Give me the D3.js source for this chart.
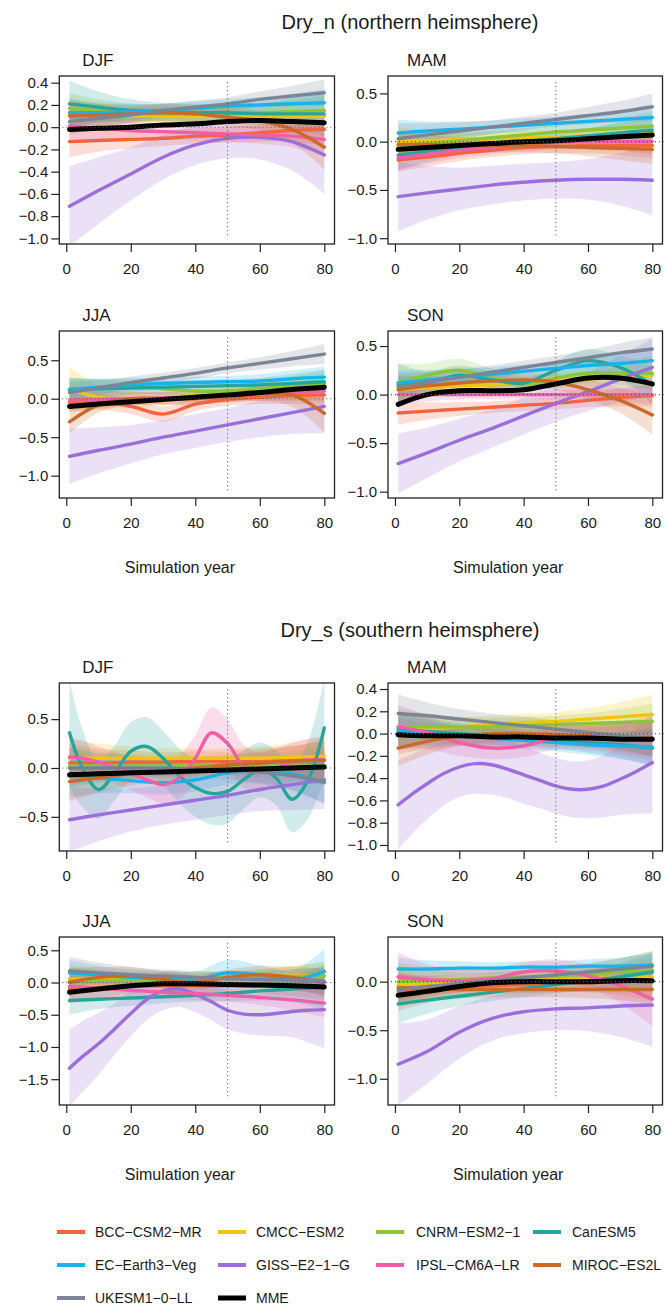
<!DOCTYPE html>
<html>
<head>
<meta charset="utf-8">
<script src="https://cdn.jsdelivr.net/npm/d3@7"></script>
<style>
  body { margin: 0; background: #fff; }
  svg { display: block; }
  text { font-family: "Liberation Sans", Arial, sans-serif; fill: #1a1a1a; }
</style>
</head>
<body>
<svg id="chart" width="664" height="1309"></svg>
<script>
// Model names and their colours (last one is the multi-model ensemble).
const models = ["BCC-CSM2-MR", "CMCC-ESM2", "CNRM-ESM2-1", "CanESM5", "EC-Earth3-Veg",
                "GISS-E2-1-G", "IPSL-CM6A-LR", "MIROC-ES2L", "UKESM1-0-LL", "MME"];
const modelColors = ["#F0643F", "#F1C40F", "#8CC43C", "#26A69A", "#1AB2E8",
                     "#9B6FD9", "#EE5FA5", "#C9692A", "#7B8595", "#000000"];

const years = [1, 10, 20, 30, 40, 50, 60, 70, 80];
const years5 = [1, 5, 10, 15, 20, 25, 30, 35, 40, 45, 50, 55, 60, 65, 70, 75, 80];
const xTicks = [0, 20, 40, 60, 80];

// ---- Dry_n (northern hemisphere) ----
// Rows follow the order of `models`. *_ci is the half width of the band.
const nDJF_fit = [
  [-0.13, -0.12, -0.11, -0.10, -0.08, -0.07, -0.05, -0.03, -0.02],
  [0.12, 0.11, 0.10, 0.10, 0.10, 0.10, 0.10, 0.10, 0.10],
  [0.17, 0.15, 0.13, 0.12, 0.12, 0.12, 0.13, 0.14, 0.15],
  [0.21, 0.18, 0.15, 0.14, 0.13, 0.13, 0.12, 0.12, 0.12],
  [0.13, 0.13, 0.14, 0.15, 0.17, 0.19, 0.20, 0.21, 0.22],
  [-0.71, -0.57, -0.42, -0.27, -0.16, -0.10, -0.09, -0.13, -0.25],
  [0.01, -0.01, -0.03, -0.04, -0.05, -0.06, -0.07, -0.08, -0.11],
  [0.10, 0.11, 0.12, 0.13, 0.12, 0.09, 0.06, -0.02, -0.18],
  [0.05, 0.08, 0.11, 0.15, 0.18, 0.21, 0.25, 0.28, 0.31],
  [-0.02, -0.01, 0.00, 0.02, 0.03, 0.05, 0.06, 0.05, 0.04]
];
const nDJF_ci = [
  [0.14, 0.10, 0.08, 0.07, 0.07, 0.07, 0.08, 0.10, 0.14],
  [0.15, 0.10, 0.08, 0.07, 0.07, 0.07, 0.08, 0.10, 0.15],
  [0.14, 0.10, 0.08, 0.07, 0.07, 0.07, 0.08, 0.10, 0.14],
  [0.21, 0.14, 0.10, 0.08, 0.08, 0.08, 0.10, 0.14, 0.20],
  [0.12, 0.09, 0.07, 0.06, 0.06, 0.06, 0.07, 0.09, 0.12],
  [0.36, 0.30, 0.24, 0.20, 0.18, 0.18, 0.20, 0.26, 0.35],
  [0.14, 0.10, 0.08, 0.07, 0.07, 0.07, 0.08, 0.10, 0.14],
  [0.14, 0.10, 0.08, 0.08, 0.08, 0.08, 0.09, 0.12, 0.20],
  [0.12, 0.09, 0.07, 0.06, 0.06, 0.06, 0.07, 0.09, 0.12],
  []
];
const nDJF_ylim = [-1.05, 0.46];
const nDJF_yticks = [-1.0, -0.8, -0.6, -0.4, -0.2, 0.0, 0.2, 0.4];

const nMAM_fit = [
  [-0.19, -0.16, -0.12, -0.09, -0.06, -0.05, -0.04, -0.04, -0.04],
  [0.00, 0.01, 0.02, 0.03, 0.04, 0.05, 0.06, 0.08, 0.10],
  [-0.05, -0.02, 0.01, 0.04, 0.07, 0.10, 0.12, 0.14, 0.16],
  [-0.14, -0.10, -0.06, -0.03, 0.00, 0.03, 0.06, 0.09, 0.12],
  [0.09, 0.11, 0.13, 0.15, 0.17, 0.19, 0.21, 0.23, 0.25],
  [-0.57, -0.53, -0.49, -0.45, -0.42, -0.40, -0.39, -0.39, -0.40],
  [-0.17, -0.13, -0.09, -0.06, -0.03, -0.01, 0.00, 0.00, 0.00],
  [-0.03, -0.03, -0.03, -0.04, -0.04, -0.05, -0.06, -0.07, -0.08],
  [0.03, 0.07, 0.11, 0.15, 0.19, 0.23, 0.27, 0.31, 0.36],
  [-0.08, -0.06, -0.04, -0.02, 0.00, 0.01, 0.03, 0.05, 0.07]
];
const nMAM_ci = [
  [0.12, 0.10, 0.08, 0.07, 0.07, 0.07, 0.08, 0.10, 0.13],
  [0.15, 0.11, 0.08, 0.07, 0.07, 0.07, 0.08, 0.11, 0.15],
  [0.15, 0.11, 0.08, 0.07, 0.07, 0.07, 0.08, 0.11, 0.15],
  [0.15, 0.11, 0.08, 0.07, 0.07, 0.07, 0.08, 0.11, 0.15],
  [0.14, 0.10, 0.08, 0.07, 0.07, 0.07, 0.08, 0.10, 0.14],
  [0.36, 0.28, 0.22, 0.20, 0.19, 0.19, 0.21, 0.27, 0.36],
  [0.13, 0.10, 0.08, 0.07, 0.07, 0.07, 0.08, 0.10, 0.13],
  [0.14, 0.10, 0.08, 0.07, 0.07, 0.07, 0.09, 0.12, 0.15],
  [0.16, 0.12, 0.09, 0.07, 0.07, 0.07, 0.09, 0.11, 0.14],
  []
];
const nMAM_ylim = [-1.06, 0.68];
const nMAM_yticks = [-1.0, -0.5, 0.0, 0.5];

const nJJA_fit = [
  [-0.05, -0.04, -0.10, -0.20, -0.07, -0.01, 0.02, 0.04, 0.05],
  [0.12, 0.02, -0.02, 0.00, 0.04, 0.07, 0.09, 0.10, 0.12],
  [0.10, 0.14, 0.16, 0.13, 0.10, 0.10, 0.13, 0.17, 0.20],
  [0.12, 0.13, 0.14, 0.15, 0.16, 0.17, 0.18, 0.20, 0.22],
  [0.12, 0.15, 0.18, 0.20, 0.21, 0.22, 0.23, 0.26, 0.28],
  [-0.75, -0.67, -0.59, -0.50, -0.42, -0.34, -0.26, -0.18, -0.10],
  [-0.02, -0.01, 0.00, 0.01, 0.02, 0.04, 0.06, 0.08, 0.10],
  [-0.30, -0.08, 0.00, 0.00, 0.00, 0.03, 0.07, 0.05, -0.19],
  [0.08, 0.14, 0.21, 0.27, 0.33, 0.40, 0.46, 0.52, 0.58],
  [-0.10, -0.07, -0.04, -0.01, 0.02, 0.05, 0.08, 0.12, 0.15]
];
const nJJA_ci = [
  [0.12, 0.10, 0.10, 0.10, 0.09, 0.08, 0.09, 0.11, 0.14],
  [0.30, 0.15, 0.10, 0.08, 0.07, 0.07, 0.08, 0.10, 0.14],
  [0.16, 0.12, 0.09, 0.08, 0.08, 0.08, 0.09, 0.12, 0.16],
  [0.16, 0.12, 0.09, 0.08, 0.08, 0.08, 0.09, 0.12, 0.16],
  [0.14, 0.11, 0.09, 0.08, 0.08, 0.08, 0.09, 0.11, 0.14],
  [0.36, 0.30, 0.25, 0.22, 0.22, 0.22, 0.24, 0.28, 0.35],
  [0.14, 0.11, 0.09, 0.08, 0.08, 0.08, 0.09, 0.11, 0.14],
  [0.15, 0.10, 0.08, 0.08, 0.08, 0.08, 0.10, 0.15, 0.25],
  [0.14, 0.10, 0.08, 0.07, 0.07, 0.07, 0.08, 0.10, 0.13],
  []
];
const nJJA_ylim = [-1.29, 0.88];
const nJJA_yticks = [-1.0, -0.5, 0.0, 0.5];

const nSON_fit = [
  [-0.19, -0.17, -0.15, -0.13, -0.11, -0.09, -0.06, -0.03, -0.01],
  [0.05, 0.07, 0.09, 0.10, 0.12, 0.14, 0.16, 0.18, 0.20],
  [0.12, 0.20, 0.25, 0.17, 0.10, 0.17, 0.22, 0.22, 0.22],
  [0.10, 0.12, 0.20, 0.15, 0.12, 0.25, 0.35, 0.28, 0.10],
  [0.12, 0.15, 0.18, 0.21, 0.24, 0.27, 0.30, 0.32, 0.35],
  [-0.71, -0.60, -0.47, -0.35, -0.22, -0.09, 0.03, 0.16, 0.28],
  [0.00, 0.00, 0.00, 0.00, 0.00, 0.00, 0.00, 0.00, 0.00],
  [0.05, 0.09, 0.12, 0.14, 0.15, 0.13, 0.05, -0.06, -0.21],
  [0.08, 0.13, 0.18, 0.23, 0.28, 0.33, 0.38, 0.43, 0.47],
  [-0.10, 0.00, 0.04, 0.04, 0.05, 0.11, 0.17, 0.17, 0.11]
];
const nSON_ci = [
  [0.12, 0.09, 0.07, 0.06, 0.06, 0.06, 0.07, 0.09, 0.12],
  [0.14, 0.10, 0.08, 0.07, 0.07, 0.07, 0.08, 0.10, 0.14],
  [0.20, 0.12, 0.12, 0.10, 0.08, 0.08, 0.10, 0.12, 0.18],
  [0.22, 0.12, 0.10, 0.09, 0.09, 0.10, 0.12, 0.12, 0.20],
  [0.13, 0.10, 0.08, 0.07, 0.07, 0.07, 0.08, 0.10, 0.13],
  [0.31, 0.26, 0.22, 0.20, 0.19, 0.19, 0.20, 0.24, 0.30],
  [0.10, 0.07, 0.05, 0.05, 0.05, 0.05, 0.05, 0.07, 0.10],
  [0.14, 0.10, 0.08, 0.07, 0.07, 0.08, 0.10, 0.13, 0.20],
  [0.14, 0.10, 0.08, 0.07, 0.07, 0.07, 0.08, 0.10, 0.12],
  []
];
const nSON_ylim = [-1.065, 0.655];
const nSON_yticks = [-1.0, -0.5, 0.0, 0.5];

// ---- Dry_s (southern hemisphere) ----
const sDJF_fit = [
  [0.05, 0.05, 0.06, 0.06, 0.07, 0.07, 0.08, 0.08, 0.08],
  [0.10, 0.10, 0.10, 0.10, 0.10, 0.10, 0.10, 0.11, 0.12],
  [0.02, 0.02, 0.02, 0.02, 0.02, 0.02, 0.02, 0.02, 0.02],
  [0.36, 0.00, -0.22, -0.05, 0.17, 0.22, 0.10, -0.08, -0.20, -0.26, -0.24, -0.12, -0.02, -0.10, -0.32, -0.12, 0.41],
  [-0.08, -0.10, -0.13, -0.15, -0.12, -0.05, -0.02, -0.06, -0.15],
  [-0.53, -0.48, -0.43, -0.38, -0.33, -0.28, -0.22, -0.17, -0.12],
  [0.11, 0.10, 0.06, 0.00, -0.06, -0.12, -0.17, -0.10, 0.10, 0.36, 0.25, 0.02, -0.04, 0.00, 0.06, 0.08, 0.08],
  [-0.14, -0.10, -0.06, -0.03, 0.00, 0.03, 0.05, 0.07, 0.08],
  [0.00, 0.00, 0.00, 0.00, -0.01, -0.02, -0.04, -0.08, -0.14],
  [-0.07, -0.06, -0.05, -0.04, -0.03, -0.02, -0.01, 0.00, 0.01]
];
const sDJF_ci = [
  [0.20, 0.15, 0.12, 0.10, 0.10, 0.10, 0.12, 0.15, 0.20],
  [0.20, 0.15, 0.12, 0.10, 0.10, 0.10, 0.12, 0.15, 0.20],
  [0.20, 0.15, 0.12, 0.10, 0.10, 0.10, 0.12, 0.15, 0.20],
  [0.55, 0.40, 0.30, 0.28, 0.30, 0.30, 0.28, 0.28, 0.30, 0.32, 0.33, 0.30, 0.28, 0.28, 0.34, 0.40, 0.50],
  [0.22, 0.16, 0.13, 0.12, 0.12, 0.12, 0.13, 0.16, 0.22],
  [0.33, 0.27, 0.22, 0.20, 0.20, 0.20, 0.22, 0.26, 0.30],
  [0.20, 0.18, 0.16, 0.16, 0.17, 0.18, 0.20, 0.22, 0.24, 0.26, 0.25, 0.22, 0.20, 0.20, 0.20, 0.22, 0.25],
  [0.20, 0.15, 0.12, 0.10, 0.10, 0.10, 0.12, 0.15, 0.20],
  [0.20, 0.15, 0.12, 0.10, 0.10, 0.10, 0.12, 0.15, 0.22],
  []
];
const sDJF_ylim = [-0.85, 0.87];
const sDJF_yticks = [-0.5, 0.0, 0.5];

const sMAM_fit = [
  [-0.02, -0.02, -0.02, -0.03, -0.03, -0.04, -0.04, -0.05, -0.05],
  [0.02, 0.04, 0.06, 0.08, 0.10, 0.11, 0.13, 0.15, 0.17],
  [0.06, 0.06, 0.06, 0.06, 0.07, 0.08, 0.09, 0.10, 0.11],
  [0.04, 0.02, 0.00, -0.02, -0.04, -0.06, -0.08, -0.10, -0.13],
  [0.02, 0.00, -0.02, -0.04, -0.06, -0.08, -0.10, -0.11, -0.12],
  [-0.64, -0.55, -0.45, -0.36, -0.30, -0.27, -0.28, -0.32, -0.37, -0.42, -0.47, -0.50, -0.50, -0.47, -0.41, -0.34, -0.26],
  [0.06, 0.01, -0.08, -0.13, -0.11, -0.04, -0.03, -0.04, -0.05],
  [-0.13, -0.07, -0.02, 0.00, 0.00, -0.01, -0.02, -0.03, -0.04],
  [0.18, 0.16, 0.13, 0.10, 0.07, 0.04, 0.01, -0.02, -0.05],
  [-0.01, -0.02, -0.02, -0.03, -0.03, -0.04, -0.04, -0.05, -0.05]
];
const sMAM_ci = [
  [0.16, 0.12, 0.09, 0.08, 0.08, 0.08, 0.09, 0.12, 0.16],
  [0.16, 0.12, 0.09, 0.08, 0.08, 0.08, 0.10, 0.13, 0.18],
  [0.16, 0.12, 0.09, 0.08, 0.08, 0.08, 0.09, 0.12, 0.16],
  [0.16, 0.12, 0.09, 0.08, 0.08, 0.08, 0.09, 0.12, 0.16],
  [0.16, 0.12, 0.09, 0.08, 0.08, 0.08, 0.09, 0.12, 0.16],
  [0.40, 0.36, 0.32, 0.29, 0.27, 0.27, 0.27, 0.26, 0.26, 0.25, 0.25, 0.25, 0.26, 0.28, 0.32, 0.38, 0.46],
  [0.20, 0.15, 0.12, 0.10, 0.10, 0.10, 0.12, 0.15, 0.20],
  [0.16, 0.12, 0.09, 0.08, 0.08, 0.08, 0.09, 0.12, 0.16],
  [0.17, 0.12, 0.09, 0.08, 0.08, 0.08, 0.09, 0.12, 0.16],
  []
];
const sMAM_ylim = [-1.054, 0.454];
const sMAM_yticks = [-1.0, -0.8, -0.6, -0.4, -0.2, 0.0, 0.2, 0.4];

const sJJA_fit = [
  [-0.10, -0.08, -0.06, -0.05, -0.05, -0.05, -0.05, -0.05, -0.05],
  [0.05, 0.05, 0.05, 0.06, 0.07, 0.08, 0.09, 0.10, 0.10],
  [0.02, 0.03, 0.04, 0.05, 0.06, 0.07, 0.08, 0.09, 0.10],
  [-0.28, -0.26, -0.24, -0.22, -0.20, -0.17, -0.13, -0.10, -0.08],
  [0.15, 0.12, 0.08, 0.06, 0.05, 0.15, 0.12, 0.04, 0.17],
  [-1.33, -1.15, -0.95, -0.72, -0.48, -0.26, -0.13, -0.10, -0.18, -0.30, -0.43, -0.49, -0.50, -0.48, -0.45, -0.43, -0.42],
  [-0.06, -0.09, -0.12, -0.15, -0.17, -0.20, -0.23, -0.27, -0.32],
  [0.00, 0.08, 0.10, 0.05, 0.00, 0.08, 0.12, 0.08, 0.00],
  [0.18, 0.15, 0.12, 0.10, 0.08, 0.06, 0.05, 0.04, 0.02],
  [-0.15, -0.10, -0.05, -0.02, -0.02, -0.03, -0.04, -0.05, -0.07]
];
const sJJA_ci = [
  [0.22, 0.16, 0.12, 0.10, 0.10, 0.10, 0.12, 0.16, 0.22],
  [0.22, 0.16, 0.12, 0.10, 0.10, 0.10, 0.12, 0.16, 0.22],
  [0.22, 0.16, 0.12, 0.10, 0.10, 0.10, 0.12, 0.16, 0.22],
  [0.22, 0.15, 0.12, 0.10, 0.10, 0.12, 0.15, 0.20, 0.35],
  [0.20, 0.14, 0.12, 0.12, 0.12, 0.20, 0.15, 0.15, 0.35],
  [0.60, 0.55, 0.48, 0.40, 0.35, 0.32, 0.30, 0.28, 0.28, 0.28, 0.30, 0.30, 0.32, 0.35, 0.40, 0.50, 0.60],
  [0.22, 0.16, 0.12, 0.10, 0.10, 0.10, 0.12, 0.16, 0.22],
  [0.22, 0.16, 0.14, 0.12, 0.12, 0.12, 0.14, 0.16, 0.22],
  [0.22, 0.16, 0.12, 0.10, 0.10, 0.10, 0.12, 0.16, 0.22],
  []
];
const sJJA_ylim = [-1.90, 0.706];
const sJJA_yticks = [-1.5, -1.0, -0.5, 0.0, 0.5];

const sSON_fit = [
  [-0.10, -0.08, -0.06, -0.04, -0.03, -0.02, -0.01, 0.00, 0.00],
  [-0.03, -0.02, -0.01, 0.00, 0.01, 0.02, 0.03, 0.04, 0.05],
  [0.00, 0.01, 0.02, 0.04, 0.05, 0.06, 0.08, 0.10, 0.12],
  [-0.23, -0.19, -0.15, -0.11, -0.07, -0.03, 0.01, 0.05, 0.10],
  [0.13, 0.13, 0.14, 0.14, 0.15, 0.15, 0.16, 0.16, 0.17],
  [-0.85, -0.72, -0.52, -0.38, -0.31, -0.28, -0.27, -0.25, -0.24],
  [0.05, 0.02, 0.01, 0.03, 0.10, 0.11, 0.06, -0.04, -0.18],
  [-0.06, -0.07, -0.08, -0.08, -0.08, -0.08, -0.08, -0.08, -0.08],
  [-0.08, -0.05, -0.02, 0.01, 0.04, 0.07, 0.10, 0.13, 0.16],
  [-0.14, -0.10, -0.05, -0.01, 0.00, 0.00, 0.00, 0.01, 0.01]
];
const sSON_ci = [
  [0.20, 0.14, 0.10, 0.09, 0.09, 0.09, 0.10, 0.14, 0.20],
  [0.20, 0.14, 0.10, 0.09, 0.09, 0.09, 0.10, 0.14, 0.20],
  [0.20, 0.14, 0.10, 0.09, 0.09, 0.09, 0.10, 0.14, 0.20],
  [0.20, 0.14, 0.10, 0.09, 0.09, 0.09, 0.10, 0.14, 0.20],
  [0.12, 0.09, 0.07, 0.06, 0.06, 0.06, 0.07, 0.09, 0.12],
  [0.42, 0.33, 0.27, 0.23, 0.22, 0.22, 0.24, 0.32, 0.43],
  [0.25, 0.16, 0.12, 0.10, 0.10, 0.12, 0.12, 0.18, 0.28],
  [0.15, 0.11, 0.09, 0.08, 0.08, 0.08, 0.09, 0.11, 0.15],
  [0.15, 0.11, 0.09, 0.08, 0.08, 0.08, 0.09, 0.11, 0.15],
  []
];
const sSON_ylim = [-1.27, 0.46];
const sSON_yticks = [-1.0, -0.5, 0.0];

const figureTitles = ["Dry_n (northern heimsphere)", "Dry_s (southern heimsphere)"];
const xLabel = "Simulation year";

// Page layout (pixels).
const colRange = [[59.3, 334.5], [388, 662.5]];
const rowRange = [[76, 244], [331, 498], [683, 851], [937, 1105]];
const xDomain = [-2.16, 83.16];

// Panel table built from the arrays above.
const panels = [
  {row: 0, col: 0, title: "DJF", fit: nDJF_fit, ci: nDJF_ci, ylim: nDJF_ylim, yticks: nDJF_yticks},
  {row: 0, col: 1, title: "MAM", fit: nMAM_fit, ci: nMAM_ci, ylim: nMAM_ylim, yticks: nMAM_yticks},
  {row: 1, col: 0, title: "JJA", fit: nJJA_fit, ci: nJJA_ci, ylim: nJJA_ylim, yticks: nJJA_yticks},
  {row: 1, col: 1, title: "SON", fit: nSON_fit, ci: nSON_ci, ylim: nSON_ylim, yticks: nSON_yticks},
  {row: 2, col: 0, title: "DJF", fit: sDJF_fit, ci: sDJF_ci, ylim: sDJF_ylim, yticks: sDJF_yticks},
  {row: 2, col: 1, title: "MAM", fit: sMAM_fit, ci: sMAM_ci, ylim: sMAM_ylim, yticks: sMAM_yticks},
  {row: 3, col: 0, title: "JJA", fit: sJJA_fit, ci: sJJA_ci, ylim: sJJA_ylim, yticks: sJJA_yticks},
  {row: 3, col: 1, title: "SON", fit: sSON_fit, ci: sSON_ci, ylim: sSON_ylim, yticks: sSON_yticks}
];

const svg = d3.select("#chart");
const minus = s => s.replace(/-/g, "\u2212");
const curve = d3.curveCatmullRom.alpha(0.5);

// Figure titles
svg.append("text").attr("x", 410).attr("y", 29).attr("text-anchor", "middle")
  .style("font-size", "20px").text(figureTitles[0]);
svg.append("text").attr("x", 410).attr("y", 637).attr("text-anchor", "middle")
  .style("font-size", "20px").text(figureTitles[1]);

panels.forEach((p, i) => drawPanel(p, i));
drawLegend();

// drawPanel draws one seasonal panel with bands, curves, reference lines and axes.
function drawPanel(p, i) {
  const [left, right] = colRange[p.col];
  const [top, bottom] = rowRange[p.row];
  const x = d3.scaleLinear().domain(xDomain).range([left, right]);
  const y = d3.scaleLinear().domain(p.ylim).range([bottom, top]);
  const g = svg.append("g").attr("class", "panel");

  g.append("clipPath").attr("id", "clip" + i)
    .append("rect").attr("x", left).attr("y", top)
    .attr("width", right - left).attr("height", bottom - top);
  const body = g.append("g").attr("clip-path", `url(#clip${i})`);

  const series = p.fit.map((vals, s) => {
    const xs = vals.length === years5.length ? years5 : years;
    return vals.map((v, k) => ({yr: xs[k], v: v, h: p.ci[s].length ? p.ci[s][k] : 0}));
  });

  const area = d3.area().curve(curve)
    .x(d => x(d.yr)).y0(d => y(d.v - d.h)).y1(d => y(d.v + d.h));
  const line = d3.line().curve(curve).x(d => x(d.yr)).y(d => y(d.v));

  // confidence bands
  body.selectAll(".band").data(series.filter((d, s) => p.ci[s].length))
    .enter().append("path").attr("class", "band")
    .attr("d", area)
    .style("fill", d => modelColors[series.indexOf(d)])
    .style("fill-opacity", 0.21)
    .style("stroke", "none");

  // fitted curves, MME last and thicker
  body.selectAll(".fit").data(series)
    .enter().append("path").attr("class", "fit")
    .attr("d", line)
    .style("fill", "none")
    .style("stroke", (d, s) => modelColors[s])
    .style("stroke-width", (d, s) => s === 9 ? 5 : 3.4)
    .style("stroke-linecap", "round");

  // zero line and year-50 marker
  const inset = (bottom - top) * 0.037;
  g.append("line").attr("x1", left + 3).attr("x2", right + 1)
    .attr("y1", y(0)).attr("y2", y(0))
    .style("stroke", "#555").style("stroke-width", 1.1).style("stroke-dasharray", "1,3");
  g.append("line").attr("x1", x(50)).attr("x2", x(50))
    .attr("y1", top + inset).attr("y2", bottom - inset)
    .style("stroke", "#555").style("stroke-width", 1.1).style("stroke-dasharray", "1,3");

  // box
  g.append("rect").attr("x", left).attr("y", top)
    .attr("width", right - left).attr("height", bottom - top)
    .style("fill", "none").style("stroke", "#222").style("stroke-width", 1.3);

  // axes
  const yAxis = g.append("g").attr("transform", `translate(${left},0)`)
    .call(d3.axisLeft(y).tickValues(p.yticks).tickSize(8).tickPadding(3)
      .tickFormat(d => minus(d3.format(".1f")(d))));
  const xAxis = g.append("g").attr("transform", `translate(0,${bottom})`)
    .call(d3.axisBottom(x).tickValues(xTicks).tickSize(8).tickPadding(11)
      .tickFormat(d3.format("d")));
  [yAxis, xAxis].forEach(a => {
    a.select(".domain").remove();
    a.selectAll("line").style("stroke", "#222").style("stroke-width", 1.2);
    a.selectAll("text").style("font-size", "15px").style("fill", "#1a1a1a")
      .style("font-family", "\"Liberation Sans\", Arial, sans-serif");
  });

  // panel title
  g.append("text").attr("x", left + (p.col === 0 ? 23 : 19)).attr("y", top - 10)
    .style("font-size", "17px").text(p.title);

  // x label under the lower row of each figure
  if (p.row === 1 || p.row === 3) {
    g.append("text").attr("x", (left + right) / 2 - 17).attr("y", bottom + 75)
      .attr("text-anchor", "middle").style("font-size", "16px").text(xLabel);
  }
}

// drawLegend lays out the model keys in four columns.
function drawLegend() {
  const rowY = [1232, 1265, 1298];
  const lineX = [57, 218, 376, 533];
  const textX = [95, 256, 416, 572];
  const lg = svg.append("g").attr("class", "legend");
  models.forEach((m, k) => {
    const r = Math.floor(k / 4), c = k % 4;
    lg.append("line").attr("x1", lineX[c]).attr("x2", lineX[c] + 28)
      .attr("y1", rowY[r]).attr("y2", rowY[r])
      .style("stroke", modelColors[k]).style("stroke-width", k === 9 ? 5 : 4);
    lg.append("text").attr("x", textX[c]).attr("y", rowY[r]).attr("dy", "0.35em")
      .style("font-size", "14px").text(minus(m));
  });
}
</script>
</body>
</html>
